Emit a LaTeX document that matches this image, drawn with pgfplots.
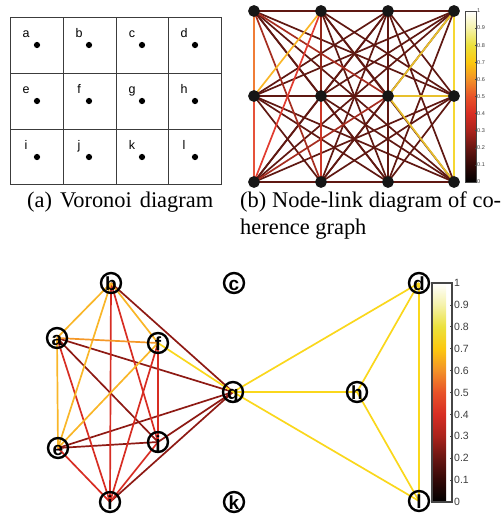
\documentclass[border=0pt]{standalone}
\usepackage{pgfplots}
\pgfplotsset{compat=1.18}
\usepackage{fontspec}
\setmainfont{Liberation Serif}
\newfontfamily\hel{Liberation Sans}
% colours
\definecolor{gridc}{RGB}{60,60,60}
\definecolor{nodeblk}{RGB}{22,22,22}
\definecolor{bdk}{RGB}{95,24,18}
\definecolor{bmid}{RGB}{165,45,32}
\definecolor{bmidb}{RGB}{145,38,26}
\definecolor{bred}{RGB}{225,60,48}
\definecolor{bredb}{RGB}{230,82,58}
\definecolor{bredc}{RGB}{205,55,40}
\definecolor{borg}{RGB}{240,125,55}
\definecolor{byel}{RGB}{250,182,40}
\definecolor{bgold}{RGB}{232,192,45}
\definecolor{byelb}{RGB}{246,215,50}
\definecolor{cdark}{RGB}{142,26,20}
\definecolor{cred}{RGB}{215,45,35}
\definecolor{corgL}{RGB}{249,182,40}
\definecolor{corg}{RGB}{245,152,40}
\definecolor{cyel}{RGB}{250,215,28}
\definecolor{cbtext}{RGB}{62,62,62}
\definecolor{cbframe}{RGB}{70,70,70}
\pgfplotsset{colormap={mhot}{rgb255(0cm)=(0,0,0) rgb255(1cm)=(50,8,6) rgb255(2cm)=(105,22,18) rgb255(3cm)=(170,35,28) rgb255(4cm)=(215,45,35) rgb255(5cm)=(232,82,40) rgb255(6cm)=(242,145,40) rgb255(7cm)=(252,200,15) rgb255(8cm)=(235,225,60) rgb255(9cm)=(245,242,170) rgb255(10cm)=(255,255,255)}}
\newcommand\E[3]{\addplot[#1] coordinates {#2 #3};}
\begin{document}
\begin{tikzpicture}[x=1pt,y=1pt]
\useasboundingbox (0pt,0pt) rectangle (501pt,514pt);
\begin{axis}[at={(0pt,0pt)}, anchor=south west, scale only axis, width=501pt, height=514pt,
  xmin=0, xmax=501, ymin=0, ymax=514, y dir=reverse, hide axis, clip=false]
% ---------- panel (a): Voronoi diagram ----------
\addplot[gridc, line width=0.9pt] coordinates {(10,17) (221,17) (221,184) (10,184) (10,17)};
\addplot[gridc, line width=0.9pt] coordinates {(63,17) (63,184)};
\addplot[gridc, line width=0.9pt] coordinates {(116,17) (116,184)};
\addplot[gridc, line width=0.9pt] coordinates {(168,17) (168,184)};
\addplot[gridc, line width=0.9pt] coordinates {(10,73) (221,73)};
\addplot[gridc, line width=0.9pt] coordinates {(10,129) (221,129)};
\addplot[only marks, mark=*, mark size=2.2pt, black] coordinates {
 (37,45) (89,45) (142,45) (195,45)
 (37,101) (89,101) (142,101) (195,101)
 (37,157) (89,157) (142,157) (195,157)};
\addplot[draw=none, point meta=explicit symbolic, nodes near coords,
  every node near coord/.append style={anchor=base, inner sep=0pt, font=\hel\fontsize{12.5}{13}\selectfont, text=black}]
 coordinates {
 (26,37.3)[a] (79,37.3)[b] (132,37.3)[c] (184,37.3)[d]
 (26,93.3)[e] (79,93.3)[f] (132,93.3)[g] (184,93.3)[h]
 (26,149.3)[i] (79,149.3)[j] (132,149.3)[k] (184,149.3)[l]};
% ---------- panel (b): node-link diagram ----------
\pgfplotsset{every axis plot/.append style={line width=1.1pt}}
\E{bdk}{(254,11)}{(321,11)}
\E{bdk}{(254,11)}{(388,11)}
\E{bdk}{(254,11)}{(454,11)}
\E{bdk}{(254,11)}{(321,96)}
\E{bdk}{(254,11)}{(454,96)}
\E{bdk}{(254,11)}{(254,182)}
\E{bdk}{(254,11)}{(388,182)}
\E{bdk}{(254,11)}{(454,182)}
\E{bdk}{(321,11)}{(388,11)}
\E{bdk}{(321,11)}{(454,11)}
\E{bdk}{(321,11)}{(388,96)}
\E{bdk}{(321,11)}{(454,96)}
\E{bdk}{(321,11)}{(321,182)}
\E{bdk}{(321,11)}{(388,182)}
\E{bdk}{(321,11)}{(454,182)}
\E{bdk}{(388,11)}{(454,11)}
\E{bdk}{(388,11)}{(254,96)}
\E{bdk}{(388,11)}{(321,96)}
\E{bdk}{(388,11)}{(388,96)}
\E{bdk}{(388,11)}{(454,96)}
\E{bdk}{(388,11)}{(254,182)}
\E{bdk}{(388,11)}{(321,182)}
\E{bdk}{(388,11)}{(388,182)}
\E{bdk}{(388,11)}{(454,182)}
\E{bdk}{(454,11)}{(254,96)}
\E{bdk}{(454,11)}{(321,96)}
\E{bdk}{(454,11)}{(254,182)}
\E{bdk}{(454,11)}{(321,182)}
\E{bdk}{(454,11)}{(388,182)}
\E{bdk}{(454,11)}{(454,182)}
\E{bdk}{(254,96)}{(321,96)}
\E{bdk}{(254,96)}{(388,96)}
\E{bdk}{(254,96)}{(454,96)}
\E{bdk}{(254,96)}{(321,182)}
\E{bdk}{(254,96)}{(388,182)}
\E{bdk}{(254,96)}{(454,182)}
\E{bdk}{(321,96)}{(388,96)}
\E{bdk}{(321,96)}{(454,96)}
\E{bdk}{(321,96)}{(254,182)}
\E{bdk}{(321,96)}{(388,182)}
\E{bdk}{(321,96)}{(454,182)}
\E{bdk}{(388,96)}{(321,182)}
\E{bdk}{(388,96)}{(388,182)}
\E{bdk}{(454,96)}{(254,182)}
\E{bdk}{(454,96)}{(321,182)}
\E{bdk}{(454,96)}{(388,182)}
\E{bdk}{(254,182)}{(321,182)}
\E{bdk}{(254,182)}{(388,182)}
\E{bdk}{(254,182)}{(454,182)}
\E{bdk}{(321,182)}{(388,182)}
\E{bdk}{(321,182)}{(454,182)}
\E{bdk}{(388,182)}{(454,182)}
\E{bmid}{(254,11)}{(321,182)}
\E{bmid}{(254,11)}{(388,96)}
\E{bmid}{(254,182)}{(388,96)}
\E{bmidb}{(321,11)}{(321,96)}
\E{bredc}{(321,96)}{(321,182)}
\E{bred}{(321,11)}{(254,182)}
\E{bredb}{(254,96)}{(254,182)}
\E{borg}{(254,11)}{(254,96)}
\E{byel}{(321,11)}{(254,96)}
\E{bgold}{(454,11)}{(388,96)}
\E{bgold}{(388,96)}{(454,96)}
\E{bgold}{(388,96)}{(454,182)}
\E{byelb}{(454,11)}{(454,96)}
\E{byelb}{(454,96)}{(454,182)}
\addplot[only marks, mark=*, mark size=5pt, nodeblk] coordinates {
 (254,11) (321,11) (388,11) (454,11)
 (254,96) (321,96) (388,96) (454,96)
 (254,182) (321,182) (388,182) (454,182)};
% ---------- panel (c): coherence graph ----------
\pgfplotsset{every axis plot/.append style={line width=1.7pt}}
\E{cdark}{(111,283)}{(233,392)}
\E{cdark}{(57,338)}{(233,392)}
\E{cdark}{(58,448)}{(233,392)}
\E{cdark}{(58,448)}{(158,442)}
\E{cdark}{(158,442)}{(233,392)}
\E{cdark}{(110,502)}{(233,392)}
\E{cdark}{(57,338)}{(158,442)}
\E{cred}{(111,283)}{(110,502)}
\E{cred}{(111,283)}{(158,442)}
\E{cred}{(158,343)}{(158,442)}
\E{cred}{(158,343)}{(110,502)}
\E{cred}{(57,338)}{(110,502)}
\E{cred}{(58,448)}{(110,502)}
\E{cred}{(158,442)}{(110,502)}
\E{corgL}{(57,338)}{(111,283)}
\E{corgL}{(111,283)}{(158,343)}
\E{corgL}{(57,338)}{(58,448)}
\E{corgL}{(111,283)}{(58,448)}
\E{corgL}{(58,448)}{(158,343)}
\E{corg}{(57,338)}{(158,343)}
\E{cyel}{(158,343)}{(233,392)}
\E{cyel}{(233,392)}{(419,283)}
\E{cyel}{(233,392)}{(357,392)}
\E{cyel}{(233,392)}{(419,501)}
\E{cyel}{(357,392)}{(419,283)}
\E{cyel}{(357,392)}{(419,501)}
\E{cyel}{(419,283)}{(419,501)}
\addplot[only marks, mark=o, mark size=10pt, mark options={line width=2.4pt, draw=black}, black,
  point meta=explicit symbolic, nodes near coords,
  every node near coord/.append style={anchor=base, yshift=-7pt, inner sep=0pt,
    font=\hel\bfseries\fontsize{19}{19}\selectfont, text=black}]
 coordinates {
 (57,338)[a] (111,283)[b] (234,283)[c] (419,283)[d]
 (58,448)[e] (158,343)[f] (233,392)[g] (357,392)[h]
 (110,502)[i] (158,442)[j] (234,502)[k] (419,501)[l]};
% ---------- captions ----------
\node[anchor=base west, inner sep=0pt, font=\fontsize{22.4}{27}\selectfont] at (axis cs:27,207) {\makebox[186pt][s]{(a) Voronoi diagram}};
\node[anchor=base west, inner sep=0pt, font=\fontsize{22.4}{27}\selectfont] at (axis cs:240,207) {\makebox[261pt][s]{(b) Node-link diagram of co-}};
\node[anchor=base west, inner sep=0pt, font=\fontsize{22.4}{27}\selectfont] at (axis cs:240,234) {herence graph};
\end{axis}
% ---------- colorbar (b) ----------
\begin{axis}[at={(465pt,503pt)}, anchor=north east, scale only axis, width=4pt, height=171pt, hide axis,
  colormap name=mhot, point meta min=0, point meta max=1,
  colorbar, colorbar shift/.style={},
  colorbar style={at={(parent axis.north east)}, anchor=north west, scale only axis,
    width=11pt, height=171pt, ymin=0, ymax=1,
    ytick={0,0.1,0.2,0.3,0.4,0.5,0.6,0.7,0.8,0.9,1},
    ytick pos=right, yticklabel pos=right, tick align=inside, major tick length=1.5pt,
    tick style={cbframe, line width=0.4pt}, axis line style={cbframe, line width=0.7pt},
    yticklabel style={font=\hel\fontsize{5.5}{6}\selectfont, text=cbtext, inner sep=1pt},
    /pgf/number format/assume math mode=true}]
\addplot[draw=none] coordinates {(0,0) (1,1)};
\end{axis}
% ---------- colorbar (c) ----------
\begin{axis}[at={(432pt,231pt)}, anchor=north east, scale only axis, width=4pt, height=219pt, hide axis,
  colormap name=mhot, point meta min=0, point meta max=1,
  colorbar, colorbar shift/.style={},
  colorbar style={at={(parent axis.north east)}, anchor=north west, scale only axis,
    width=20pt, height=219pt, ymin=0, ymax=1,
    ytick={0,0.1,0.2,0.3,0.4,0.5,0.6,0.7,0.8,0.9,1},
    ytick pos=right, yticklabel pos=right, tick align=inside, major tick length=2.5pt,
    tick style={cbframe, line width=0.6pt}, axis line style={cbframe, line width=1.1pt},
    yticklabel style={font=\hel\fontsize{10.5}{11}\selectfont, text=cbtext, inner sep=2pt},
    /pgf/number format/assume math mode=true}]
\addplot[draw=none] coordinates {(0,0) (1,1)};
\end{axis}
\end{tikzpicture}
\end{document}
